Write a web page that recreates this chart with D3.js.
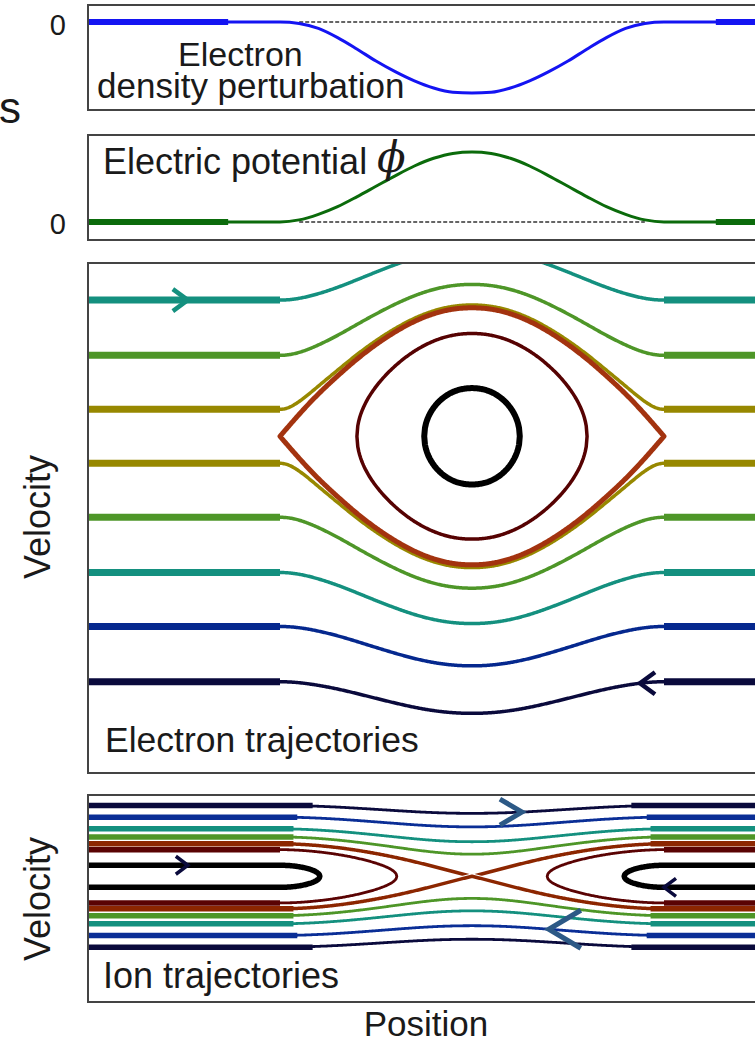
<!DOCTYPE html>
<html>
<head>
<meta charset="utf-8">
<script src="https://cdn.jsdelivr.net/npm/d3@7"></script>
<style>
  body { margin: 0; background: #fff; }
  svg { display: block; }
  text { font-family: "Liberation Sans", Arial, sans-serif; fill: #1a1a1a; }
</style>
</head>
<body>
<svg id="chart" width="755" height="1045"></svg>
<script>
  //
  // Data
  //
  // potential profile, normalised to its peak, at these positions
  var phiPos = [-1, -0.9, -0.8, -0.7, -0.6, -0.5, -0.4, -0.3, -0.2, -0.1, 0, 0.1, 0.2, 0.3, 0.4, 0.5, 0.6, 0.7, 0.8, 0.9, 1]
  var phiVal = [0, 0.03, 0.11, 0.22, 0.36, 0.51, 0.66, 0.8, 0.91, 0.98, 1, 0.98, 0.91, 0.8, 0.66, 0.51, 0.36, 0.22, 0.11, 0.03, 0]
  // electron density perturbation at the same positions
  var densVal = [0, -0.02, -0.09, -0.22, -0.38, -0.55, -0.7, -0.83, -0.93, -0.99, -1, -0.99, -0.93, -0.83, -0.7, -0.55, -0.38, -0.22, -0.09, -0.02, 0]

  // electrons: far-field velocity of passing orbits (trapping velocity = 1)
  var eLevels = [1.06, 0.63, 0.21, -0.21, -0.63, -1.06, -1.48, -1.91]
  var eColors = ['#14907f', '#4e9628', '#978800', '#978800', '#4e9628', '#14907f', '#05288e', '#0a0a3c']
  // trapped electrons: peak velocity
  var eTrapped = [0.8, 0.375]
  var eTrapColors = ['#560202', '#000000']

  // ions: far-field speed of passing orbits (reflection speed = 1), drawn +/-
  var ionLevels = [2.18, 1.82, 1.46, 1.21]
  var ionColors = ['#0a0a3c', '#0a2e96', '#14907f', '#4e9628']
  // reflected ions
  var ionReflected = [0.82, 0.34]
  var ionRefColors = ['#5a0303', '#000000']

  var sepColorE = '#a3330f'
  var sepColorI = '#8c2600'

  // arrows: position, far-field level of the orbit, direction
  var eArrows = [
    {p: -1.48, v: 1.06, dir: 1},
    {p: 0.875, v: -1.91, dir: -1}
  ]
  var ionArrows = [
    {p: -1.48, v: 0.34, dir: 1},
    {p: 1.0, v: -0.34, dir: -1},
    {p: 0.26, v: 2.18, dir: 1},
    {p: 0.40, v: -1.82, dir: -1}
  ]

  //
  // Variables
  //
  var svg = d3.select('#chart')
  var x = d3.scaleLinear().domain([-2, 2]).range([88, 856])
  var yDens = d3.scaleLinear().domain([-1, 0]).range([93, 22])
  var yPhi = d3.scaleLinear().domain([0, 1]).range([222, 152])
  var yE = d3.scaleLinear().domain([-1, 1]).range([564.8, 307.8])
  var yI = d3.scaleLinear().domain([-1, 1]).range([908.8, 843.8])

  var ps = d3.range(-2, 2.0001, 0.005)
  var sqrtPhi = d3.interpolateBasis(phiVal.map(Math.sqrt))
  var pMin = phiPos[0], pMax = phiPos[phiPos.length - 1]

  //
  // Functions
  //
  function rawPhi(p) {
    if (p <= pMin || p >= pMax) return 0
    var s = sqrtPhi((p - pMin) / (pMax - pMin))
    return s * s
  }
  var phiPeak = d3.max(ps, rawPhi)
  function phi(p) {
    return rawPhi(p) / phiPeak
  }

  function bisect(f, a, b) {
    var fa = f(a) < 0
    for (var i = 0; i < 50; i++) {
      var m = (a + b) / 2
      if ((f(m) < 0) === fa) a = m
      else b = m
    }
    return (a + b) / 2
  }

  function eVel(p, v0) {
    return Math.sign(v0) * Math.sqrt(v0 * v0 + phi(p))
  }

  function iVel(p, v0) {
    return Math.sign(v0) * Math.sqrt(Math.max(0, v0 * v0 - phi(p)))
  }

  function trappedPts(vmax) {
    var E = vmax * vmax - 1
    var f = function (p) { return phi(p) + E }
    var pl = E >= 0 ? pMin : bisect(f, pMin, 0)
    var pr = E >= 0 ? pMax : bisect(f, 0, pMax)
    var inner = ps.filter(function (p) { return p > pl && p < pr })
    var up = [pl].concat(inner, [pr]).map(function (p) { return [p, Math.sqrt(Math.max(0, f(p)))] })
    var down = up.slice(1, -1).reverse().map(function (d) { return [d[0], -d[1]] })
    return up.concat(down)
  }

  function reflectedPts(v0, side) {
    var f = function (p) { return v0 * v0 - phi(p) }
    var pt = side < 0 ? bisect(f, pMin, 0) : bisect(f, 0, pMax)
    var outer = side < 0 ? ps.filter(function (p) { return p < pt }) : ps.filter(function (p) { return p > pt }).reverse()
    var up = outer.concat([pt]).map(function (p) { return [p, Math.sqrt(Math.max(0, f(p)))] })
    var down = outer.slice().reverse().map(function (p) { return [p, -Math.sqrt(Math.max(0, f(p)))] })
    return up.concat(down)
  }

  function panel(top, bottom, id) {
    svg.append('clipPath').attr('id', id)
      .append('rect').attr('x', 88).attr('y', top).attr('width', 856 - 88).attr('height', bottom - top)
    return svg.append('g').attr('clip-path', 'url(#' + id + ')')
  }

  function border(top, bottom) {
    svg.append('rect')
      .attr('x', 88).attr('y', top).attr('width', 856 - 88).attr('height', bottom - top)
      .attr('fill', 'none').attr('stroke', '#444').attr('stroke-width', 2)
  }

  function thick(g, yScale, v, from, color, width) {
    [[-2, -from], [from, 2]].forEach(function (seg) {
      g.append('line')
        .attr('x1', x(seg[0])).attr('x2', x(seg[1]))
        .attr('y1', yScale(v)).attr('y2', yScale(v))
        .attr('stroke', color).attr('stroke-width', width)
    })
  }

  function curve(g, line, pts, color, width, casing, closed) {
    var d = line(pts) + (closed ? 'Z' : '')
    if (casing) {
      g.append('path').attr('d', d).attr('fill', 'none')
        .attr('stroke', '#fff').attr('stroke-width', width + casing)
    }
    g.append('path').attr('d', d).attr('fill', 'none')
      .attr('stroke', color).attr('stroke-width', width)
      .attr('stroke-linejoin', 'round')
  }

  function arrow(g, px, py, dir, len, half, color, width) {
    g.append('path')
      .attr('d', 'M' + (px - dir * len) + ',' + (py - half) + 'L' + px + ',' + py + 'L' + (px - dir * len) + ',' + (py + half))
      .attr('fill', 'none').attr('stroke', color).attr('stroke-width', width)
      .attr('stroke-linejoin', 'miter')
  }

  //
  // Panel 1: density perturbation
  //
  var g1 = panel(5, 110, 'c1')
  var densPts = [[-2, 0]].concat(phiPos.map(function (p, i) { return [p, densVal[i]] }), [[2, 0]])
  g1.append('line')
    .attr('x1', x(-0.9)).attr('x2', x(0.9)).attr('y1', yDens(0)).attr('y2', yDens(0))
    .attr('stroke', '#333').attr('stroke-width', 1.4).attr('stroke-dasharray', '4,2')
  g1.append('path')
    .attr('d', d3.line().x(function (d) { return x(d[0]) }).y(function (d) { return yDens(d[1]) }).curve(d3.curveMonotoneX)(densPts))
    .attr('fill', 'none').attr('stroke', '#1414f2').attr('stroke-width', 3)
  thick(g1, yDens, 0, 1.27, '#1414f2', 6)
  border(5, 110)

  //
  // Panel 2: electric potential
  //
  var g2 = panel(135, 240, 'c2')
  var phiPts = [[-2, 0]].concat(phiPos.map(function (p, i) { return [p, phiVal[i]] }), [[2, 0]])
  g2.append('line')
    .attr('x1', x(-0.9)).attr('x2', x(0.9)).attr('y1', yPhi(0)).attr('y2', yPhi(0))
    .attr('stroke', '#333').attr('stroke-width', 1.4).attr('stroke-dasharray', '4,2')
  g2.append('path')
    .attr('d', d3.line().x(function (d) { return x(d[0]) }).y(function (d) { return yPhi(d[1]) }).curve(d3.curveMonotoneX)(phiPts))
    .attr('fill', 'none').attr('stroke', '#0b6b0b').attr('stroke-width', 3)
  thick(g2, yPhi, 0, 1.27, '#0b6b0b', 6)
  border(135, 240)

  //
  // Panel 3: electron trajectories
  //
  var g3 = panel(263, 773, 'c3')
  var lineE = d3.line().x(function (d) { return x(d[0]) }).y(function (d) { return yE(d[1]) })

  eLevels.forEach(function (v0, i) {
    var pts = ps.map(function (p) { return [p, eVel(p, v0)] })
    curve(g3, lineE, pts, eColors[i], 3.5, 0, false)
    thick(g3, yE, v0, 1.0, eColors[i], 7)
  })
  curve(g3, lineE, trappedPts(1), sepColorE, 5, 0, true)
  eTrapped.forEach(function (vm, i) {
    curve(g3, lineE, trappedPts(vm), eTrapColors[i], i === 0 ? 3.5 : 6, 0, true)
  })
  eArrows.forEach(function (a) {
    var c = eColors[eLevels.indexOf(a.v)]
    arrow(g3, x(a.p), yE(eVel(a.p, a.v)), a.dir, 15, 11, c, 4.5)
  })
  border(263, 773)

  //
  // Panel 4: ion trajectories
  //
  var g4 = panel(795, 1002, 'c4')
  var lineI = d3.line().x(function (d) { return x(d[0]) }).y(function (d) { return yI(d[1]) })

  ionLevels.forEach(function (v0, i) {
    [v0, -v0].forEach(function (v) {
      var pts = ps.map(function (p) { return [p, iVel(p, v)] })
      curve(g4, lineI, pts, ionColors[i], 2.8, 2.5, false)
    })
  })
  ;[1, -1].forEach(function (v) {
    var pts = ps.map(function (p) { return [p, iVel(p, v)] })
    curve(g4, lineI, pts, sepColorI, 3.5, 2, false)
  })
  ionReflected.forEach(function (v0, i) {
    [-1, 1].forEach(function (side) {
      curve(g4, lineI, reflectedPts(v0, side), ionRefColors[i], i === 1 ? 5.5 : 2.8, i === 1 ? 0 : 2.5, false)
    })
  })
  var ionThickEnd = [0.83, 0.91, 0.93, 0.93]
  ionLevels.forEach(function (v0, i) {
    thick(g4, yI, v0, ionThickEnd[i], ionColors[i], 5.5)
    thick(g4, yI, -v0, ionThickEnd[i], ionColors[i], 5.5)
  })
  thick(g4, yI, 1, 0.93, sepColorI, 5.5)
  thick(g4, yI, -1, 0.93, sepColorI, 5.5)
  thick(g4, yI, ionReflected[0], 1.0, ionRefColors[0], 5.5)
  thick(g4, yI, -ionReflected[0], 1.0, ionRefColors[0], 5.5)

  ionArrows.forEach(function (a, i) {
    var px = x(a.p), py = yI(iVel(a.p, a.v))
    if (i < 2) arrow(g4, px, py, a.dir, 12, 9, '#0a0a3c', 3.5)
    else if (i === 2) arrow(g4, px, py, a.dir, 22, 13, '#2c5986', 5)
    else arrow(g4, px, py, a.dir, 32, 19, '#2c5986', 5)
  })
  border(795, 1002)

  //
  // Labels
  //
  function label(txt, tx, ty, size, anchor) {
    return svg.append('text').attr('x', tx).attr('y', ty)
      .attr('font-size', size).attr('text-anchor', anchor || 'start').text(txt)
  }

  label('s', -1, 123, 44)
  label('0', 66, 35, 29, 'end')
  label('0', 66, 234, 29, 'end')
  // two-line panel title kept as one text element
  var densTitle = svg.append('text').attr('font-size', 35)
  densTitle.append('tspan').attr('x', 178).attr('y', 66).attr('font-size', 34).text('Electron')
  densTitle.append('tspan').attr('x', 97).attr('y', 98).text('density perturbation')
  label('Electric potential', 103, 174, 36)
  svg.append('text').attr('x', 377).attr('y', 172)
    .style('font-family', '"DejaVu Serif", serif').style('font-style', 'italic')
    .attr('font-size', 42).text('\u03d5')
  label('Electron trajectories', 105, 752, 35.5)
  label('Ion trajectories', 103, 988, 36)
  label('Position', 426, 1036, 35, 'middle')
  svg.append('text').attr('transform', 'translate(50,517) rotate(-90)')
    .attr('font-size', 36).attr('text-anchor', 'middle').text('Velocity')
  svg.append('text').attr('transform', 'translate(50,899) rotate(-90)')
    .attr('font-size', 36).attr('text-anchor', 'middle').text('Velocity')
</script>
</body>
</html>
